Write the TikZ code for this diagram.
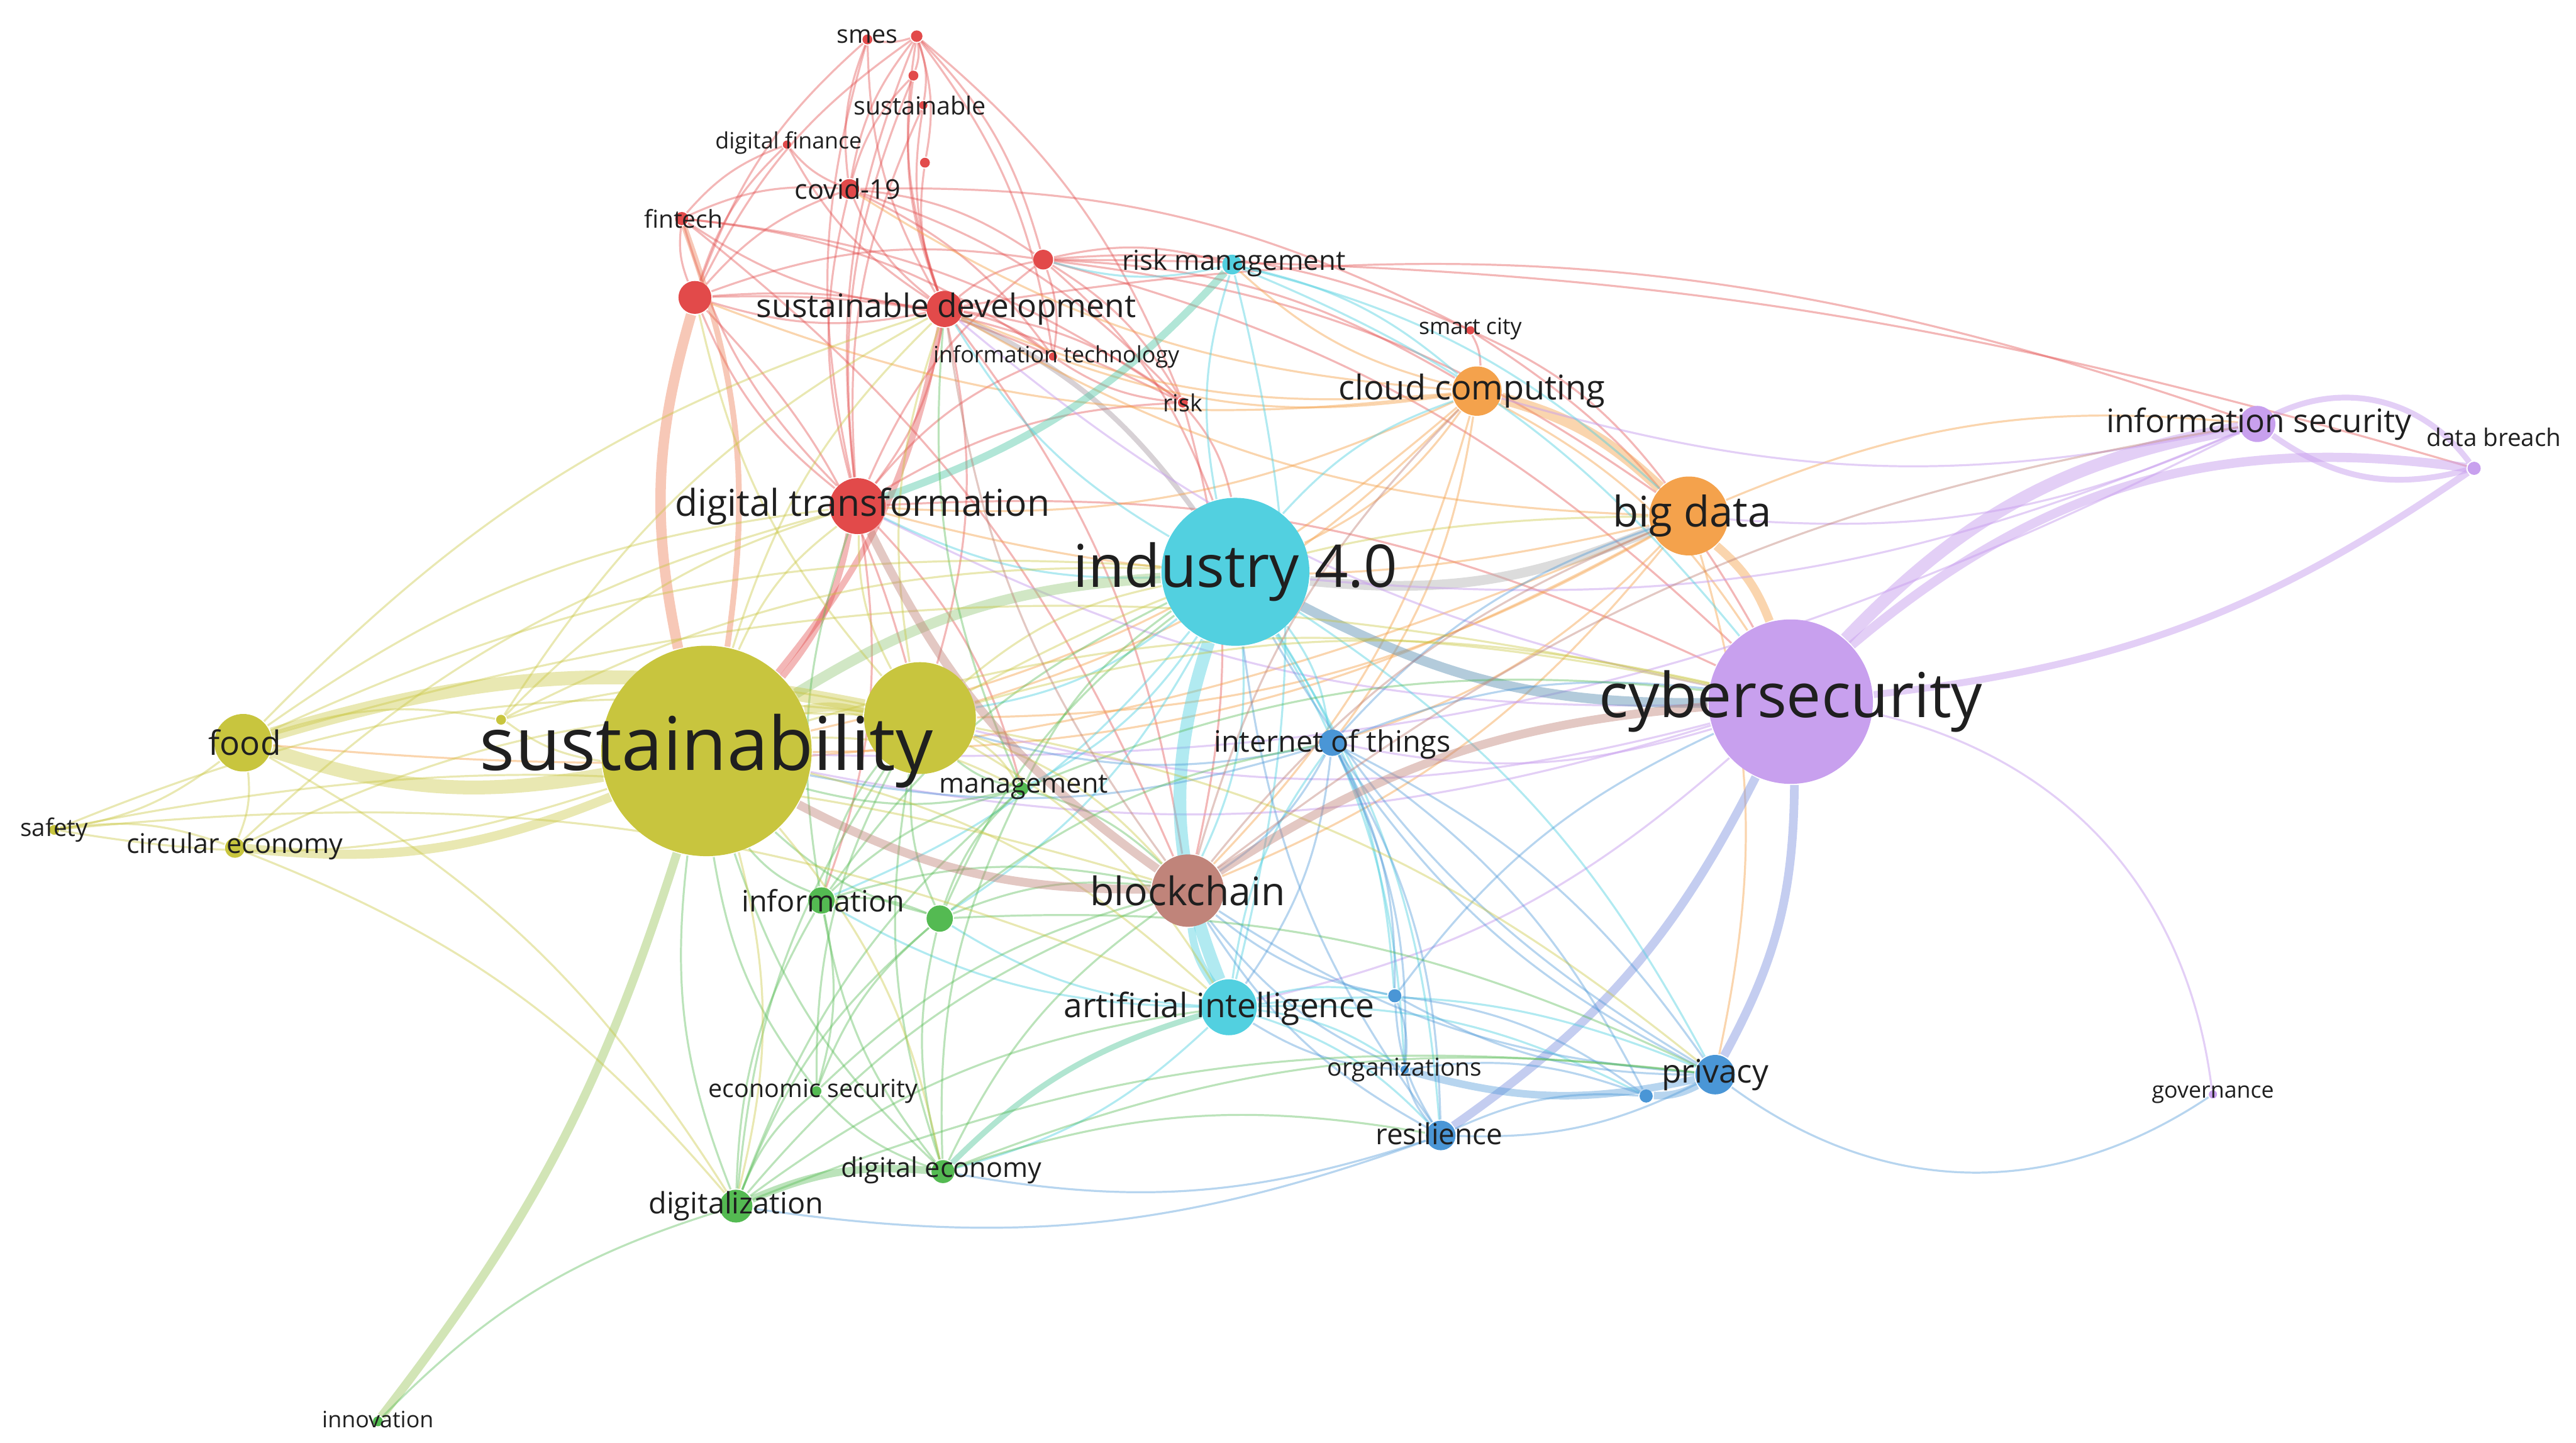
\documentclass[tikz,border=0pt]{standalone}
\usepackage{fontspec}
\setmainfont{Open Sans}
\usetikzlibrary{positioning}

\definecolor{cred}{RGB}{226,74,74}
\definecolor{cgrn}{RGB}{84,186,82}
\definecolor{cblu}{RGB}{74,150,214}
\definecolor{cyel}{RGB}{200,197,62}
\definecolor{cpur}{RGB}{200,160,238}
\definecolor{ccya}{RGB}{82,208,224}
\definecolor{corg}{RGB}{244,162,76}
\definecolor{cbrn}{RGB}{192,132,122}

\newcommand{\kwfont}[1]{\fontsize{#1}{#1}\selectfont}

\pgfdeclarelayer{links}
\pgfsetlayers{links,main}

\tikzset{
  kw/.style={circle, inner sep=0pt, fill=#1},
  lab/.style={inner sep=0pt, text=black!88},
  ered/.style={draw=cred, draw opacity=.4, line width=.35pt},
  egrn/.style={draw=cgrn, draw opacity=.4, line width=.35pt},
  eblu/.style={draw=cblu, draw opacity=.4, line width=.35pt},
  eyel/.style={draw=cyel, draw opacity=.4, line width=.35pt},
  epur/.style={draw=cpur, draw opacity=.5, line width=.35pt},
  ecya/.style={draw=ccya, draw opacity=.45, line width=.35pt},
  eorg/.style={draw=corg, draw opacity=.45, line width=.35pt},
  ebrn/.style={draw=cbrn, draw opacity=.45, line width=.35pt},
}

\begin{document}
\begin{tikzpicture}[x=0.01cm, y=-0.01cm, every edge/.append style={bend left=14}]

	\useasboundingbox (0,0) rectangle (1568,878);

	% red
	\node[kw=cred, minimum size=2.2mm] (sdev) at (575,188) {};
	\node[kw=cred, minimum size=3.4mm] (dtrans) at (522,308) {};
	\node[kw=cred, minimum size=2.0mm] (red1) at (423,181) {};
	\node[kw=cred, minimum size=1.2mm] (covid) at (517,115) {};
	\node[kw=cred, minimum size=0.8mm] (fintech) at (415,133) {};
	\node[kw=cred, minimum size=0.6mm] (smes) at (528,24) {};
	\node[kw=cred, minimum size=0.7mm] (red2) at (558,22) {};
	\node[kw=cred, minimum size=0.6mm] (red3) at (556,46) {};
	\node[kw=cred, minimum size=0.5mm] (sustbl) at (562,64) {};
	\node[kw=cred, minimum size=0.5mm] (dfin) at (479,88) {};
	\node[kw=cred, minimum size=0.6mm] (red4) at (563,99) {};
	\node[kw=cred, minimum size=1.2mm] (red5) at (635,158) {};
	\node[kw=cred, minimum size=0.5mm] (itech) at (641,217) {};
	\node[kw=cred, minimum size=0.6mm] (risk) at (720,245) {};
	\node[kw=cred, minimum size=0.5mm] (smart) at (895,201) {};

	% cyan
	\node[kw=ccya, minimum size=9.0mm] (ind) at (752,348) {};
	\node[kw=ccya, minimum size=1.2mm] (rmgmt) at (750,161) {};
	\node[kw=ccya, minimum size=3.4mm] (ai) at (748,613) {};

	% orange
	\node[kw=corg, minimum size=3.0mm] (cloud) at (899,238) {};
	\node[kw=corg, minimum size=4.8mm] (bdata) at (1028,314) {};

	% purple
	\node[kw=cpur, minimum size=10.0mm] (cyber) at (1090,427) {};
	\node[kw=cpur, minimum size=2.2mm] (infosec) at (1374,258) {};
	\node[kw=cpur, minimum size=0.8mm] (breach) at (1506,285) {};
	\node[kw=cpur, minimum size=0.5mm] (gov) at (1347,666) {};

	% blue
	\node[kw=cblu, minimum size=1.6mm] (iot) at (811,452) {};
	\node[kw=cblu, minimum size=2.4mm] (priv) at (1044,654) {};
	\node[kw=cblu, minimum size=1.8mm] (resil) at (877,691) {};
	\node[kw=cblu, minimum size=0.5mm] (orgs) at (855,651) {};
	\node[kw=cblu, minimum size=0.8mm] (blu2) at (849,606) {};
	\node[kw=cblu, minimum size=0.8mm] (blu3) at (1002,667) {};

	% green
	\node[kw=cgrn, minimum size=0.8mm] (mgmt) at (622,480) {};
	\node[kw=cgrn, minimum size=1.6mm] (info) at (500,548) {};
	\node[kw=cgrn, minimum size=1.6mm] (grn2) at (572,559) {};
	\node[kw=cgrn, minimum size=0.6mm] (esec) at (497,664) {};
	\node[kw=cgrn, minimum size=1.4mm] (decon) at (574,713) {};
	\node[kw=cgrn, minimum size=2.0mm] (dig) at (448,734) {};
	\node[kw=cgrn, minimum size=0.6mm] (innov) at (230,865) {};

	% yellow
	\node[kw=cyel, minimum size=12.8mm] (sust) at (430,457) {};
	\node[kw=cyel, minimum size=6.8mm] (yel2) at (560,437) {};
	\node[kw=cyel, minimum size=3.5mm] (food) at (148,452) {};
	\node[kw=cyel, minimum size=1.2mm] (circ) at (143,516) {};
	\node[kw=cyel, minimum size=0.6mm] (safety) at (33,505) {};
	\node[kw=cyel, minimum size=0.6mm] (yel3) at (305,438) {};

	% brown
	\node[kw=cbrn, minimum size=4.4mm] (block) at (723,542) {};

	\begin{pgfonlayer}{links}
	% red links
	\draw[ered] (sdev) edge (dtrans) edge (covid) edge (smes) edge (red2) edge (red3) edge (red4) edge (red5) edge (fintech) edge (red1) edge (itech) edge (risk) edge (sustbl) edge (dfin) edge (block) edge (yel2) edge (infosec);
	\draw[ered] (dtrans) edge (covid) edge (smes) edge (red2) edge (red1) edge (fintech) edge (red5) edge (itech) edge (risk) edge (sustbl) edge (red3) edge (info) edge (mgmt) edge (cyber);
	\draw[ered] (red1) edge (covid) edge (fintech) edge (dfin) edge (smes) edge (red2) edge (red5) edge (itech) edge (risk) edge (yel2);
	\draw[ered] (covid) edge (smes) edge (red2) edge (dfin) edge (red5) edge (itech) edge (risk) edge (red3) edge (smart);
	\draw[ered] (fintech) edge (dfin) edge (covid) edge (block) edge (itech) edge (risk);
	\draw[ered] (red2) edge (smes) edge (red3) edge (red4) edge (sustbl) edge (red5) edge (risk) edge (itech);
	\draw[ered] (red5) edge (rmgmt) edge (cloud) edge (smart) edge (itech) edge (risk) edge (ind) edge (cyber) edge (bdata) edge[bend left=8] (breach);
	\draw[ered] (risk) edge (block) edge (ind) edge (itech);
	\draw[ered] (smart) edge (cyber) edge (bdata) edge (cloud);
	\draw[ered, line width=1.8pt, draw=cred!50!corg] (red1) edge[bend right=14] (sust);
	\draw[ered, line width=1.0pt, draw=cred!50!corg] (fintech) edge (sust);
	\draw[ered, line width=1.1pt] (dtrans) edge (sust) (sdev) edge (sust);
	\draw[ered, line width=.9pt, draw=cred!50!ccya] (sdev) edge (ind);

	% orange links
	\draw[eorg, line width=2pt] (cloud) edge (bdata);
	\draw[eorg] (cloud) edge (ind) edge (sust) edge (dtrans) edge (sdev) edge (red1) edge (cyber) edge (iot) edge (block) edge (yel2) edge (rmgmt) edge (itech) edge (covid);
	\draw[eorg, line width=1.5pt] (bdata) edge (cyber);
	\draw[eorg] (bdata) edge (sust) edge (dtrans) edge (infosec) edge (block) edge (priv) edge (iot) edge (sdev) edge (yel2) edge (food);
	\draw[eorg, line width=1.7pt, draw=black!30] (bdata) edge (ind);

	% purple links
	\draw[epur, line width=2.2pt] (cyber) edge[bend left=18] (infosec);
	\draw[epur, line width=1.6pt] (cyber) edge[bend left=24] (breach);
	\draw[epur, line width=1.2pt] (cyber) edge[bend right=14] (breach);
	\draw[epur, line width=1pt] (infosec) edge[bend left=40] (breach) edge[bend right=25] (breach);
	\draw[epur] (cyber) edge[bend left=35] (gov) edge (iot) edge (ai) edge (sust) edge (yel2) edge (dtrans) edge (sdev);
	\draw[epur] (infosec) edge (ind) edge (sust) edge (cloud) edge (bdata);
	\draw[epur, line width=1.5pt, draw=cpur!50!cblu] (cyber) edge (priv) edge (resil);
	\draw[epur, line width=1.7pt, draw=cpur!40!ccya!80!black] (cyber) edge (ind);

	% cyan links
	\draw[ecya, line width=2.2pt] (ind) edge[bend right=20] (ai);
	\draw[ecya, line width=1.3pt, draw=ccya!60!cgrn] (rmgmt) edge (dtrans);
	\draw[ecya] (ind) edge (rmgmt) edge (block) edge (iot) edge (yel2) edge (dtrans) edge (sdev) edge (priv) edge (resil) edge (orgs) edge (info) edge (mgmt) edge (grn2) edge (blu2) edge (cloud);
	\draw[ecya] (rmgmt) edge (bdata) edge (cyber) edge (ai) edge (cloud) edge (red5);
	\draw[ecya] (ai) edge (resil) edge (priv) edge (orgs) edge (blu2) edge (blu3) edge (decon) edge (grn2) edge (iot) edge (info);
	\draw[ecya, line width=1.3pt] (ai) edge (block);
	\draw[ecya, line width=1.0pt, draw=ccya!50!cgrn] (decon) edge (ai);
	\draw[ecya, line width=1.8pt, draw=cyel!60!ccya] (sust) edge (ind);

	% blue links
	\draw[eblu] (iot) edge (priv) edge (resil) edge (orgs) edge (blu2) edge (blu3) edge (block) edge (sust) edge (yel2) edge (ai) edge (cyber) edge (bdata);
	\draw[eblu, line width=1.3pt] (priv) edge (blu3) edge (orgs);
	\draw[eblu] (priv) edge[bend right=35] (gov) edge (resil) edge (blu2) edge (block) edge (ind) edge (iot);
	\draw[eblu] (resil) edge (blu2) edge (orgs) edge (dig) edge (decon) edge (blu3) edge (block) edge (ind);
	\draw[eblu] (blu2) edge (blu3) edge (orgs) edge (block) edge (cyber);
	\draw[eblu] (orgs) edge (block) edge (ai) edge (blu3);

	% green links
	\draw[egrn, line width=1.3pt] (dig) edge (decon);
	\draw[egrn, line width=1.5pt, draw=cgrn!50!cyel] (innov) edge[bend right=10] (sust);
	\draw[egrn] (innov) edge (dig);
	\draw[egrn] (dig) edge (info) edge (esec) edge (grn2) edge (mgmt) edge (sust) edge (yel2) edge (block) edge (ai) edge (priv);
	\draw[egrn] (decon) edge (info) edge (esec) edge (grn2) edge (mgmt) edge (sust) edge (yel2) edge (block) edge (priv) edge (resil);
	\draw[egrn] (info) edge (grn2) edge (mgmt) edge (esec) edge (sust) edge (yel2) edge (block) edge (ind) edge (dtrans);
	\draw[egrn] (grn2) edge (mgmt) edge (block) edge (priv) edge (sust) edge (yel2) edge (iot) edge (ind);
	\draw[egrn] (mgmt) edge (ind) edge (block) edge (sust) edge (yel2) edge (sdev) edge (cyber);
	\draw[egrn] (esec) edge (grn2) edge (sust) edge (yel2) edge (block);

	% yellow links
	\draw[eyel, line width=2.4pt] (sust) edge (food) (food) edge (yel2);
	\draw[eyel, line width=1.6pt] (sust) edge (yel2) edge (circ);
	\draw[eyel] (sust) edge (safety) edge (yel3) edge (dtrans) edge (sdev) edge (cyber) edge (ai) edge (dig) edge (decon) edge (mgmt);
	\draw[eyel] (food) edge (circ) edge (safety) edge (yel3) edge (dtrans) edge (ind) edge (dig) edge (cyber) edge (sdev);
	\draw[eyel] (safety) edge (circ) edge (ai) edge (yel2) edge (block);
	\draw[eyel] (circ) edge (yel2) edge (dig) edge (dtrans);
	\draw[eyel] (yel2) edge (block) edge (mgmt) edge (ind) edge (dtrans) edge (sdev) edge (cyber) edge (ai) edge (red1) edge (bdata) edge (priv);
	\draw[eyel] (yel3) edge (ind) edge (sdev) edge (dtrans) edge (yel2);

	% brown links
	\draw[ebrn, line width=1.5pt] (block) edge (dtrans) edge (cyber) edge (sust);
	\draw[ebrn] (block) edge (sdev) edge (bdata) edge (cloud) edge (infosec);
	\end{pgfonlayer}

	% labels
	\node[lab, font=\kwfont{12.8}] (sust-l) at (sust) {sustainability};
	\node[lab, font=\kwfont{10.7}] (cyber-l) at (cyber) {cybersecurity};
	\node[lab, font=\kwfont{10.2}] (ind-l) at (ind) {industry 4.0};
	\node[lab, font=\kwfont{7.3}] (bdata-l) at (1030,314) {big data};
	\node[lab, font=\kwfont{6.8}] (block-l) at (block) {blockchain};
	\node[lab, font=\kwfont{6.4}] (dtrans-l) at (525,308) {digital transformation};
	\node[lab, font=\kwfont{5.6}] (sdev-l) at (576,188) {sustainable development};
	\node[lab, font=\kwfont{5.8}] (ai-l) at (742,614) {artificial intelligence};
	\node[lab, font=\kwfont{5.9}] (cloud-l) at (896,238) {cloud computing};
	\node[lab, font=\kwfont{5.6}] (infosec-l) at (1375,258) {information security};
	\node[lab, font=\kwfont{5.8}] (food-l) at (149,452) {food};
	\node[lab, font=\kwfont{5.1}] (iot-l) at (811,453) {internet of things};
	\node[lab, font=\kwfont{5.6}] (priv-l) at (priv) {privacy};
	\node[lab, font=\kwfont{5.0}] (resil-l) at (876,690) {resilience};
	\node[lab, font=\kwfont{5.1}] (info-l) at (501,548) {information};
	\node[lab, font=\kwfont{5.1}] (dig-l) at (dig) {digitalization};
	\node[lab, font=\kwfont{4.7}] (decon-l) at (573,712) {digital economy};
	\node[lab, font=\kwfont{4.7}] (mgmt-l) at (623,479) {management};
	\node[lab, font=\kwfont{4.75}] (rmgmt-l) at (751,160) {risk management};
	\node[lab, font=\kwfont{4.7}] (circ-l) at (143,515) {circular economy};
	\node[lab, font=\kwfont{4.7}] (covid-l) at (516,115) {covid-19};
	\node[lab, font=\kwfont{4.3}] (esec-l) at (495,664) {economic security};
	\node[lab, font=\kwfont{4.25}] (orgs-l) at (855,651) {organizations};
	\node[lab, font=\kwfont{4.25}] (fintech-l) at (416,133) {fintech};
	\node[lab, font=\kwfont{4.3}] (smes-l) at (528,22) {smes};
	\node[lab, font=\kwfont{4.3}] (sustbl-l) at (560,64) {sustainable};
	\node[lab, font=\kwfont{3.9}] (dfin-l) at (480,87) {digital finance};
	\node[lab, font=\kwfont{3.9}] (itech-l) at (643,217) {information technology};
	\node[lab, font=\kwfont{4.1}] (risk-l) at (720,245) {risk};
	\node[lab, font=\kwfont{3.9}] (smart-l) at (895,200) {smart city};
	\node[lab, font=\kwfont{4.2}] (breach-l) at (1518,266) {data breach};
	\node[lab, font=\kwfont{3.9}] (gov-l) at (1347,666) {governance};
	\node[lab, font=\kwfont{4.2}] (safety-l) at (33,505) {safety};
	\node[lab, font=\kwfont{3.9}] (innov-l) at (230,864) {innovation};

\end{tikzpicture}
\end{document}
